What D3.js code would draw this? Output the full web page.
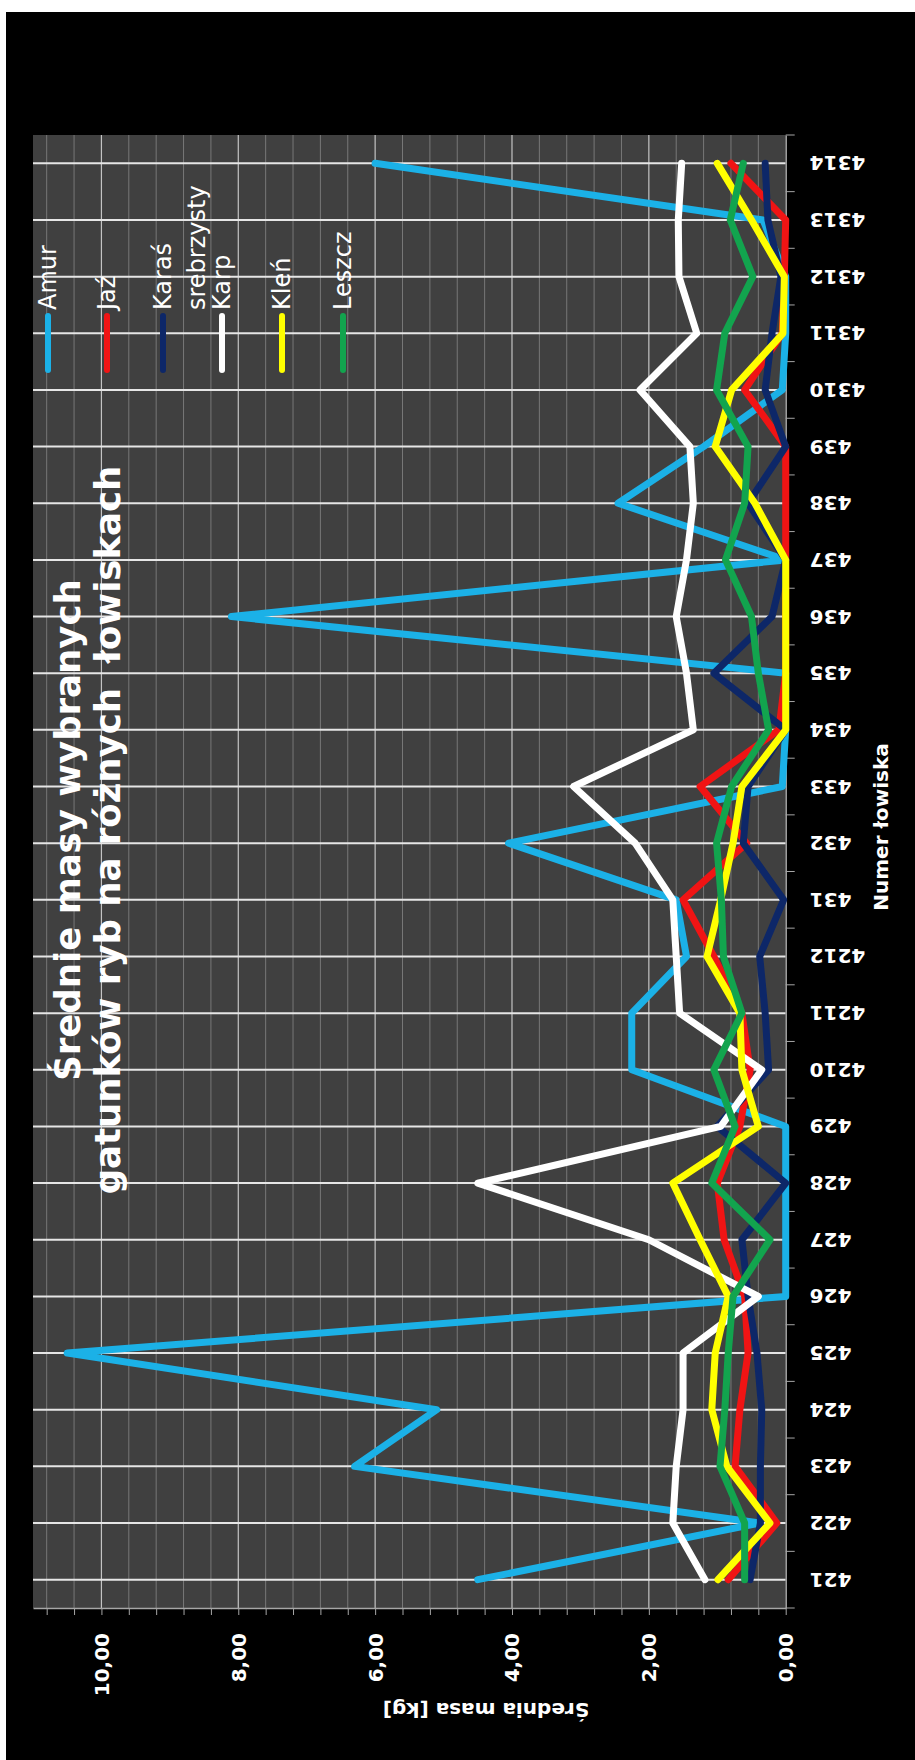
<!DOCTYPE html>
<html>
<head>
<meta charset="utf-8">
<script src="https://cdn.jsdelivr.net/npm/d3@7"></script>
<style>
  body { margin: 0; background: #fff; }
  svg { display: block; }
  text { font-family: "DejaVu Sans", sans-serif; fill: #fff; }
</style>
</head>
<body>
<div id="chart"></div>
<script>
// fishing spot numbers (bottom -> top in the picture)
const categories = ['421', '422', '423', '424', '425', '426', '427', '428', '429', '4210', '4211', '4212',
  '431', '432', '433', '434', '435', '436', '437', '438', '439', '4310', '4311', '4312', '4313', '4314'];

// mean mass [kg] per spot
const amur   = [4.5, 0.38, 6.3, 5.1, 10.5, 0, 0, 0, 0, 2.25, 2.25, 1.45, 1.6, 4.05, 0.05, 0, 0, 8.1, 0, 2.45, 1.2, 0.05, 0, 0, 0.33, 6.0];
const jaz    = [0.84, 0.13, 0.74, 0.67, 0.55, 0.6, 0.9, 1.0, 0.67, 0.52, 0.64, 1.05, 1.5, 0.57, 1.25, 0.1, 0, 0, 0, 0, 0, 0.6, 0.05, 0.02, 0, 0.8];
const karas  = [0.52, 0.37, 0.37, 0.35, 0.42, 0.55, 0.64, 0, 1.0, 0.25, 0.3, 0.38, 0.03, 0.62, 0.55, 0, 1.05, 0.2, 0, 0.55, 0, 0.3, 0.2, 0.07, 0.26, 0.3];
const karp   = [1.18, 1.65, 1.6, 1.5, 1.5, 0.4, 2.0, 4.5, 0.95, 0.35, 1.55, 1.6, 1.65, 2.2, 3.1, 1.35, 1.45, 1.6, 1.45, 1.35, 1.4, 2.13, 1.3, 1.56, 1.57, 1.52];
const klen   = [0.99, 0.23, 0.86, 1.08, 1.03, 0.84, 1.25, 1.65, 0.4, 0.64, 0.67, 1.15, 0.95, 0.77, 0.64, 0, 0, 0, 0, 0.45, 1.03, 0.79, 0.04, 0.02, 0.5, 1.0];
const leszcz = [0.6, 0.6, 0.96, 0.89, 0.84, 0.77, 0.23, 1.08, 0.74, 1.05, 0.64, 0.91, 0.94, 1.01, 0.79, 0.25, 0.4, 0.5, 0.88, 0.6, 0.55, 1.01, 0.89, 0.48, 0.81, 0.62];

const seriesNames  = ['Amur', 'Jaź', 'Karaś srebrzysty', 'Karp', 'Kleń', 'Leszcz'];
const seriesValues = [amur, jaz, karas, karp, klen, leszcz];
const seriesColors = ['#1bb1e7', '#f01414', '#0d2768', '#ffffff', '#ffff00', '#12a44e'];

const valueTicks = [0, 2, 4, 6, 8, 10];
const valueTickLabels = ['0,00', '2,00', '4,00', '6,00', '8,00', '10,00'];

const titleLines = ['Średnie masy wybranych', 'gatunków ryb na różnych  łowiskach'];
const valueTitle = 'Średnia masa [kg]';
const categoryTitle = 'Numer łowiska';

const width = 915, height = 1760;
// plot box (the chart is turned a quarter: categories run up the right side)
const plot = { left: 33, right: 785.7, top: 135, bottom: 1608 };

const svg = d3.select('#chart').append('svg')
    .attr('width', width)
    .attr('height', height);

svg.append('rect')
    .attr('x', 6).attr('y', 12)
    .attr('width', width - 6).attr('height', height - 12)
    .attr('fill', '#000');

svg.append('rect')
    .attr('x', plot.left).attr('y', plot.top)
    .attr('width', plot.right - plot.left).attr('height', plot.bottom - plot.top)
    .attr('fill', '#404040');

const x = d3.scaleLinear()
    .domain([0, 11])
    .range([plot.right, plot.left]);

const y = d3.scaleBand()
    .domain(categories)
    .range([plot.bottom, plot.top]);

const yc = c => y(c) + y.bandwidth() / 2;

// minor steps of 0.4
const minorTicks = d3.range(0, 28).map(i => +(i * 0.4).toFixed(1));
const isMajor = v => valueTicks.some(t => Math.abs(t - v) < 1e-6);

const grid = svg.append('g');
grid.selectAll('line.minor')
    .data(minorTicks.filter(v => v > 0 && !isMajor(v)))
    .enter().append('line')
    .attr('x1', d => x(d)).attr('x2', d => x(d))
    .attr('y1', plot.top).attr('y2', plot.bottom)
    .attr('stroke', '#777')
    .attr('stroke-width', 1);

grid.selectAll('line.major')
    .data(valueTicks.filter(v => v > 0))
    .enter().append('line')
    .attr('x1', d => x(d)).attr('x2', d => x(d))
    .attr('y1', plot.top).attr('y2', plot.bottom)
    .attr('stroke', '#c4c4c4')
    .attr('stroke-width', 1.2);

grid.selectAll('line.cat')
    .data(categories)
    .enter().append('line')
    .attr('x1', plot.left).attr('x2', plot.right)
    .attr('y1', d => yc(d)).attr('y2', d => yc(d))
    .attr('stroke', '#e6e6e6')
    .attr('stroke-width', 2);

// value axis along the bottom
const xAxis = svg.append('g')
    .attr('transform', `translate(0,${plot.bottom})`)
    .call(d3.axisBottom(x)
        .tickValues(minorTicks)
        .tickSize(7)
        .tickSizeOuter(0)
        .tickFormat(v => {
            const k = valueTicks.findIndex(t => Math.abs(t - v) < 1e-6);
            return k >= 0 ? valueTickLabels[k] : '';
        }));
xAxis.select('.domain').attr('stroke', '#a6a6a6').attr('stroke-width', 1.5);
xAxis.selectAll('.tick line').attr('stroke', '#a6a6a6');
xAxis.selectAll('.tick text')
    .attr('y', null).attr('dy', '0.35em')
    .attr('transform', 'translate(0,25) rotate(-90)')
    .attr('text-anchor', 'end')
    .style('font-size', '20px')
    .style('font-weight', 'bold')
    .attr('fill', '#fff');

// category axis on the right
const yAxis = svg.append('g')
    .attr('transform', `translate(${plot.right},0)`)
    .call(d3.axisRight(y).tickSize(0).tickSizeOuter(0));
yAxis.select('.domain').attr('stroke', '#a6a6a6').attr('stroke-width', 1.5);
yAxis.selectAll('.tick text')
    .attr('x', null).attr('dy', '0.35em')
    .attr('transform', 'translate(24,0) rotate(180)')
    .attr('text-anchor', 'end')
    .style('font-size', '20px')
    .style('font-weight', 'bold')
    .attr('fill', '#fff');

const bounds = categories.map(c => y(c)).concat([y(categories[0]) + y.bandwidth()]);
yAxis.selectAll('line.bound')
    .data(bounds)
    .enter().append('line')
    .attr('x1', 0).attr('x2', 9)
    .attr('y1', d => d).attr('y2', d => d)
    .attr('stroke', '#a6a6a6');

// series
const line = d3.line()
    .x(d => x(d))
    .y((d, i) => yc(categories[i]));

svg.append('g').selectAll('path')
    .data(seriesValues)
    .enter().append('path')
    .attr('d', line)
    .attr('fill', 'none')
    .attr('stroke', (d, i) => seriesColors[i])
    .attr('stroke-width', 7)
    .attr('stroke-linejoin', 'round')
    .attr('stroke-linecap', 'round');

// title
const title = svg.append('g');
title.selectAll('text')
    .data(titleLines)
    .enter().append('text')
    .attr('transform', (d, i) => `translate(${[80, 120][i]},830) rotate(-90)`)
    .attr('text-anchor', 'middle')
    .attr('xml:space', 'preserve')
    .style('white-space', 'pre')
    .style('font-size', '35.5px')
    .style('font-weight', 'bold')
    .text(d => d);

// axis titles
svg.append('text')
    .attr('transform', 'translate(486,1710) rotate(180)')
    .attr('text-anchor', 'middle')
    .attr('dy', '0.35em')
    .style('font-size', '20px')
    .style('font-weight', 'bold')
    .text(valueTitle);

svg.append('text')
    .attr('transform', 'translate(888,827) rotate(-90)')
    .attr('text-anchor', 'middle')
    .style('font-size', '20px')
    .style('font-weight', 'bold')
    .text(categoryTitle);

// legend
const legendX = [48, 107, 163, 222, 282, 343];
const legend = svg.append('g');
const item = legend.selectAll('g')
    .data(seriesNames)
    .enter().append('g')
    .attr('transform', (d, i) => `translate(${legendX[i]},0)`);

item.append('line')
    .attr('x1', 0).attr('x2', 0)
    .attr('y1', 316).attr('y2', 370)
    .attr('stroke', (d, i) => seriesColors[i])
    .attr('stroke-width', 6)
    .attr('stroke-linecap', 'round');

item.append('text')
    .attr('transform', 'translate(0,310) rotate(-90)')
    .style('font-size', '24px')
    .attr('fill', '#f2f2f2')
    .each(function (d) {
        const words = d.split(' ');
        d3.select(this).selectAll('tspan')
            .data(words)
            .enter().append('tspan')
            .attr('x', 0)
            .attr('dy', (w, j) => j === 0 ? '0.35em' : '34px')
            .text(w => w);
    });
</script>
</body>
</html>
